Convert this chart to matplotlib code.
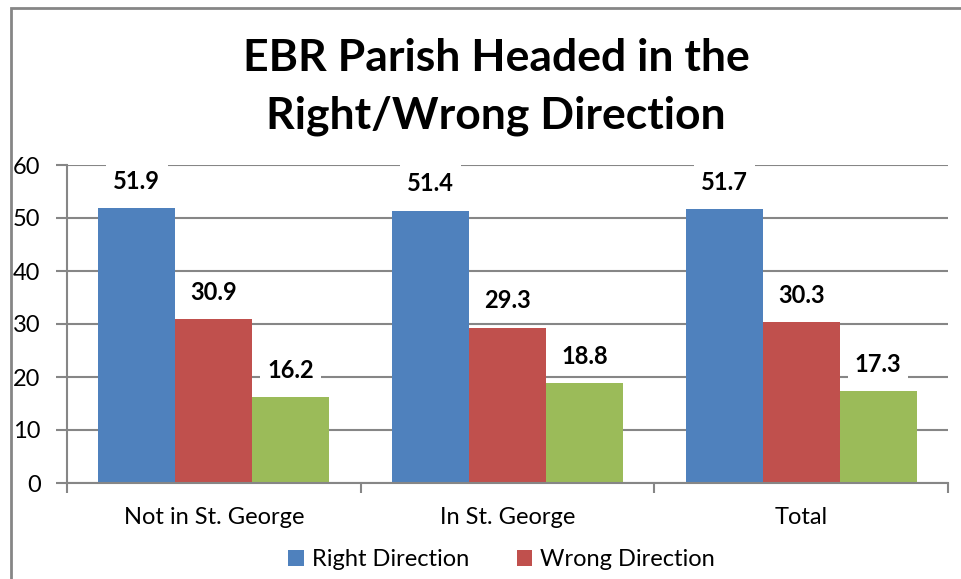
import matplotlib.pyplot as plt
from matplotlib.patches import Rectangle
import numpy as np

plt.rcParams['font.family'] = ['Lato', 'DejaVu Sans']

# Chart data
categories = ['Not in St. George', 'In St. George', 'Total']
series_names = ['Right Direction', 'Wrong Direction', "Don't Know"]
right_dir = [51.9, 51.4, 51.7]
wrong_dir = [30.9, 29.3, 30.3]
dont_know = [16.2, 18.8, 17.3]
colors = ['#4F81BD', '#C0504D', '#9BBB59']

fig = plt.figure(figsize=(9.61, 5.79), dpi=100)
ax = fig.add_axes([67 / 961, 1 - 483 / 579, (948 - 67) / 961, (483 - 165) / 579])

# outer chart border (cropped at right and bottom)
fig.patches.append(Rectangle((11 / 961, -0.1), 1.2, 1 - 8 / 579 + 0.1,
                             transform=fig.transFigure, fill=False,
                             edgecolor='#868686', linewidth=2))

x = np.arange(len(categories)) + 0.5
w = 77 / 294
handles = []
for i, (vals, col, name) in enumerate(zip([right_dir, wrong_dir, dont_know], colors, series_names)):
    pos = x + (i - 1) * w
    b = ax.bar(pos, vals, width=w, color=col, label=name, zorder=2)
    handles.append(b)
    for p, v in zip(pos, vals):
        ax.annotate(f'{v:.1f}', (p, v), xytext=(0, 11), textcoords='offset points',
                    ha='center', va='bottom', fontsize=17, fontweight='bold',
                    bbox=dict(boxstyle='square,pad=0.3', fc='white', ec='none'),
                    zorder=3)

ax.set_xlim(0, 3)
ax.set_ylim(0, 60)
ax.set_yticks(range(0, 61, 10))
ax.yaxis.grid(True, color='#868686', linewidth=1.5, zorder=0)
ax.set_axisbelow(True)

ax.set_xticks([0, 1, 2, 3])
ax.set_xticklabels([])
ax.set_xticks(x, minor=True)
ax.set_xticklabels(categories, minor=True)
ax.tick_params(axis='x', which='minor', length=0, pad=17, labelsize=17)
ax.tick_params(axis='x', which='major', length=7, width=1.5, color='#868686')
ax.tick_params(axis='y', length=8, width=1.5, color='#868686', labelsize=17, pad=11)

for s in ['top', 'right']:
    ax.spines[s].set_visible(False)
for s in ['left', 'bottom']:
    ax.spines[s].set_color('#868686')
    ax.spines[s].set_linewidth(1.5)

fig.text(0.516, 0.900, 'EBR Parish Headed in the', ha='center', va='center',
         fontsize=32, fontweight='bold')
fig.text(0.516, 0.800, 'Right/Wrong Direction', ha='center', va='center',
         fontsize=32, fontweight='bold')

fig.legend(handles[:2], series_names[:2], loc='center', bbox_to_anchor=(0.522, 0.033),
           ncol=2, frameon=False, fontsize=17, handlelength=0.65, handleheight=0.65,
           handletextpad=0.35, columnspacing=2.0)

fig.savefig('out.png', dpi=100)
